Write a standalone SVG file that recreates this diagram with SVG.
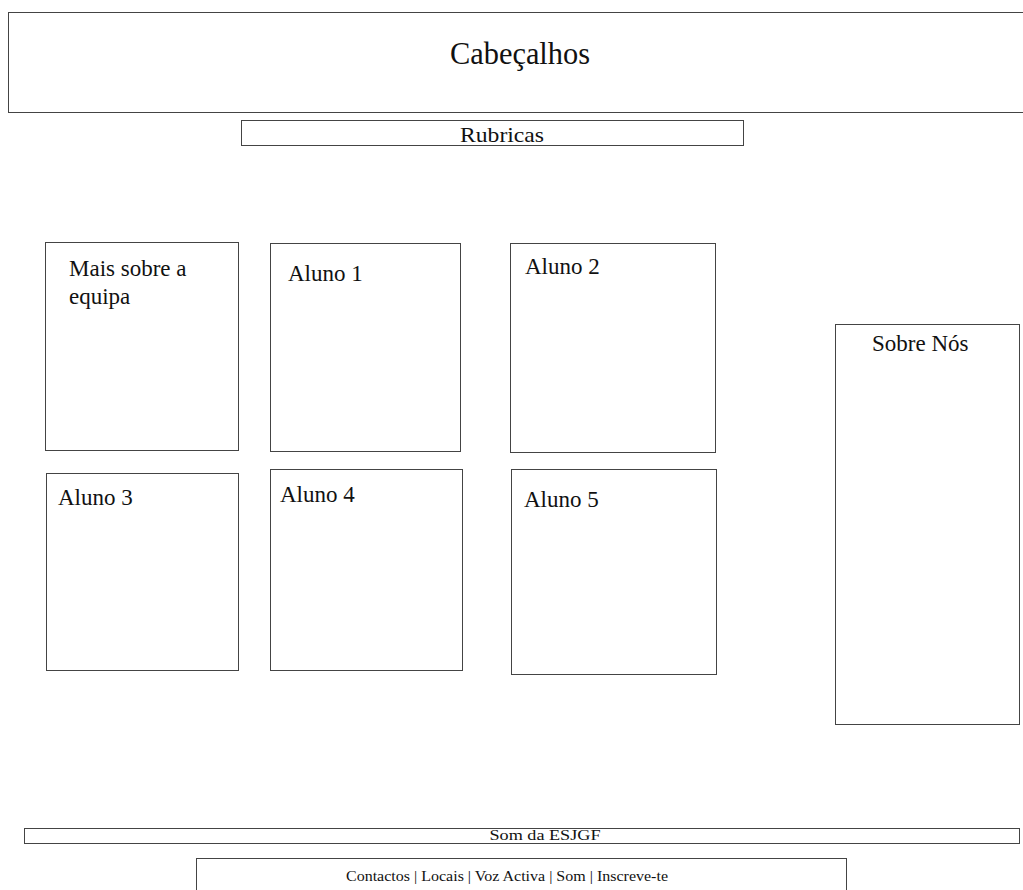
<svg xmlns="http://www.w3.org/2000/svg" width="1023" height="890" viewBox="0 0 1023 890">
<style>
.box{fill:#fff;stroke:#444;stroke-width:1}
.t{font-family:"Liberation Serif","Times New Roman",serif;fill:#111}
.lbl{font-size:23px}
</style>
<rect x="0" y="0" width="1023" height="890" fill="#fff"/>
<g id="header"><rect class="box" x="8.5" y="12.5" width="1020" height="100"/><text class="t" x="520" y="64" font-size="32" text-anchor="middle" textLength="140" lengthAdjust="spacingAndGlyphs">Cabeçalhos</text></g>
<g id="rubricas"><rect class="box" x="241.5" y="120.5" width="502" height="25"/><text class="t" x="502" y="142" font-size="22" text-anchor="middle" textLength="84" lengthAdjust="spacingAndGlyphs">Rubricas</text></g>
<g id="mais"><rect class="box" x="45.5" y="242.5" width="193" height="208"/><text class="t lbl" x="69" y="276">Mais sobre a</text><text class="t lbl" x="69" y="304">equipa</text></g>
<g id="aluno1"><rect class="box" x="270.5" y="243.5" width="190" height="208"/><text class="t lbl" x="288" y="281">Aluno 1</text></g>
<g id="aluno2"><rect class="box" x="510.5" y="243.5" width="205" height="209"/><text class="t lbl" x="525" y="274">Aluno 2</text></g>
<g id="sobre"><rect class="box" x="835.5" y="324.5" width="184" height="400"/><text class="t lbl" x="872" y="351">Sobre Nós</text></g>
<g id="aluno3"><rect class="box" x="46.5" y="473.5" width="192" height="197"/><text class="t lbl" x="58" y="505">Aluno 3</text></g>
<g id="aluno4"><rect class="box" x="270.5" y="469.5" width="192" height="201"/><text class="t lbl" x="280" y="502">Aluno 4</text></g>
<g id="aluno5"><rect class="box" x="511.5" y="469.5" width="205" height="205"/><text class="t lbl" x="524" y="507">Aluno 5</text></g>
<g id="som"><rect class="box" x="24.5" y="828.5" width="995" height="15"/><text class="t" x="545" y="840" font-size="14" text-anchor="middle" textLength="111" lengthAdjust="spacingAndGlyphs">Som da ESJGF</text></g>
<g id="contactos"><rect class="box" x="196.5" y="858.5" width="650" height="40"/><text class="t" x="507" y="881" font-size="15" text-anchor="middle" textLength="322" lengthAdjust="spacingAndGlyphs">Contactos | Locais | Voz Activa | Som | Inscreve-te</text></g>
<g id="connectors"></g>
</svg>
